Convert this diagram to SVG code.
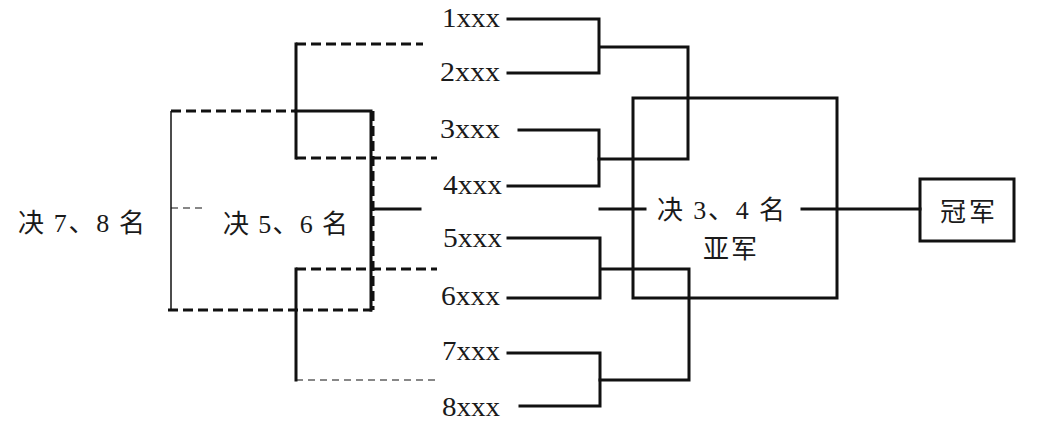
<svg xmlns="http://www.w3.org/2000/svg" width="1045" height="425" viewBox="0 0 1045 425">
<style>
.t{font-family:"Liberation Serif","Noto Sans CJK SC",serif;font-size:27px;fill:#1a1a1a}
.c{font-family:"Liberation Serif","Noto Sans CJK SC",serif;font-size:26px;fill:#1a1a1a}
.s{fill:none;stroke:#111;stroke-width:3;stroke-linecap:square}
.d{fill:none;stroke:#111;stroke-width:3;stroke-dasharray:10 5}
.th{fill:none;stroke:#111;stroke-width:1.5}
.td{fill:none;stroke:#111;stroke-width:1.2;stroke-dasharray:7 5}
</style>
<rect width="1045" height="425" fill="#fff"/>
<g id="connectors">
<path class="s" d="M508 19H599V73H508M599 47H688V159H599"/>
<path class="s" d="M519 130H599V186H508"/>
<path class="s" d="M508 238H600V298H508M600 269H689V380H600"/>
<path class="s" d="M508 353H600V406H520"/>
<rect class="s" x="633" y="98" width="204" height="200"/>
<path class="s" d="M600 209H645M802 209H920"/>
<path class="d" d="M296 44H423M296 158H437M296 269H437"/>
<path class="s" d="M296 44V158M296 269V380"/>
<path class="td" d="M296 380H437"/>
<path class="d" d="M171 111H296M168 310H372"/>
<path class="s" d="M296 111H371V310"/>
<path class="d" d="M373 111V310"/>
<path class="th" d="M171 111V310"/>
<path class="td" d="M171 208H207"/>
<path class="s" d="M373 209H420"/>
</g>
<g id="players">
<text class="t" x="442" y="27" textLength="58" lengthAdjust="spacingAndGlyphs">1xxx</text>
<text class="t" x="440" y="81" textLength="60" lengthAdjust="spacingAndGlyphs">2xxx</text>
<text class="t" x="440" y="138" textLength="60" lengthAdjust="spacingAndGlyphs">3xxx</text>
<text class="t" x="443" y="194" textLength="59" lengthAdjust="spacingAndGlyphs">4xxx</text>
<text class="t" x="443" y="247" textLength="59" lengthAdjust="spacingAndGlyphs">5xxx</text>
<text class="t" x="441" y="305" textLength="59" lengthAdjust="spacingAndGlyphs">6xxx</text>
<text class="t" x="442" y="360" textLength="58" lengthAdjust="spacingAndGlyphs">7xxx</text>
<text class="t" x="442" y="416" textLength="58" lengthAdjust="spacingAndGlyphs">8xxx</text>
</g>
<g id="semifinal">
<text class="c" x="657" y="219" textLength="128" lengthAdjust="spacing">决 3、4 名</text>
<text class="c" x="703" y="258" textLength="54" lengthAdjust="spacing">亚军</text>
</g>
<g id="champion">
<rect class="s" x="920" y="179" width="94" height="62"/>
<text class="c" x="940" y="221" textLength="55" lengthAdjust="spacing">冠军</text>
</g>
<g id="place56">
<text class="c" x="223" y="233" textLength="125" lengthAdjust="spacing">决 5、6 名</text>
</g>
<g id="place78">
<text class="c" x="18" y="232" textLength="127" lengthAdjust="spacing">决 7、8 名</text>
</g>
</svg>
